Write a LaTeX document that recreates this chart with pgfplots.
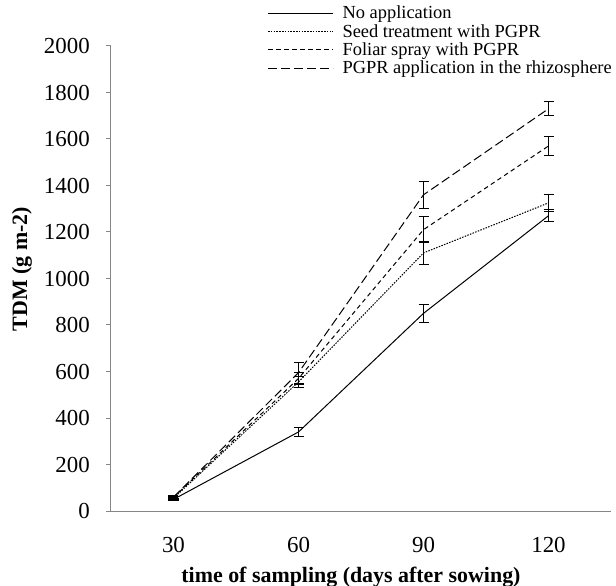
\documentclass[border=0pt]{standalone}
\usepackage{fontspec}
\setmainfont{Liberation Serif}
\usepackage{pgfplots}
\pgfplotsset{compat=1.18}
\definecolor{axgray}{RGB}{134,134,134}

\begin{document}
\begin{tikzpicture}
\begin{axis}[
  scale only axis,
  width=500bp, height=465bp,
  xmin=-0.5, xmax=3.5,
  ymin=0, ymax=2000,
  xtick={0,1,2,3},
  xticklabels={30,60,90,120},
  ytick={0,200,...,2000},
  axis x line*=bottom,
  axis y line*=left,
  axis line style={axgray, line width=1bp},
  tick align=outside,
  major tick length=5bp,
  ytick style={axgray, line width=1bp},
  xtick style={draw=none},
  tick label style={font=\fontsize{23}{27}\selectfont},
  /pgf/number format/assume math mode=true,
  /pgf/number format/1000 sep={},
  yticklabel style={inner sep=0pt, xshift=-16bp},
  xticklabel style={inner sep=0pt, yshift=-21bp},
  xlabel={time of sampling (days after sowing)},
  ylabel={TDM (g m-2)},
  label style={font=\bfseries\fontsize{22}{26}\selectfont},
  xlabel style={at={([yshift=-71bp]axis description cs:0.48,0)}, anchor=base},
  ylabel style={at={([xshift=-89bp]axis description cs:0,0.52)}, anchor=center},
  legend style={draw=none, fill=none, at={(1,1)}, anchor=north east, yshift=42bp, xshift=3bp,
    font=\fontsize{18.5}{20}\selectfont, cells={anchor=west}, row sep=0bp,
    column sep=7bp, inner sep=0pt},
  legend image code/.code={\draw[#1] (0bp,0bp) -- (65bp,0bp);},
  error bars/y dir=both,
  error bars/y explicit,
  error bars/error bar style={solid, black, line width=1bp},
  error bars/error mark options={rotate=90, mark size=5bp, line width=1bp, solid, black},
]

\addplot[black, line width=1bp, solid] coordinates {
  (0,50) +- (0,6)
  (1,340) +- (0,20)
  (2,850) +- (0,40)
  (3,1270) +- (0,25)
};
\addlegendentry{No application}

\addplot[black, line width=1bp, dash pattern=on 1.5bp off 1.3bp] coordinates {
  (0,55) +- (0,6)
  (1,555) +- (0,25)
  (2,1110) +- (0,50)
  (3,1325) +- (0,35)
};
\addlegendentry{Seed treatment with PGPR}

\addplot[black, line width=1bp, dash pattern=on 4.5bp off 3.5bp] coordinates {
  (0,58) +- (0,6)
  (1,570) +- (0,25)
  (2,1210) +- (0,55)
  (3,1570) +- (0,40)
};
\addlegendentry{Foliar spray with PGPR}

\addplot[black, line width=1bp, dash pattern=on 9bp off 4bp] coordinates {
  (0,60) +- (0,8)
  (1,595) +- (0,45)
  (2,1360) +- (0,58)
  (3,1730) +- (0,30)
};
\addlegendentry{PGPR application in the rhizosphere}

\end{axis}
\pgfresetboundingbox
\useasboundingbox (-111bp,-75bp) rectangle (505bp,511bp);
\end{tikzpicture}
\end{document}
